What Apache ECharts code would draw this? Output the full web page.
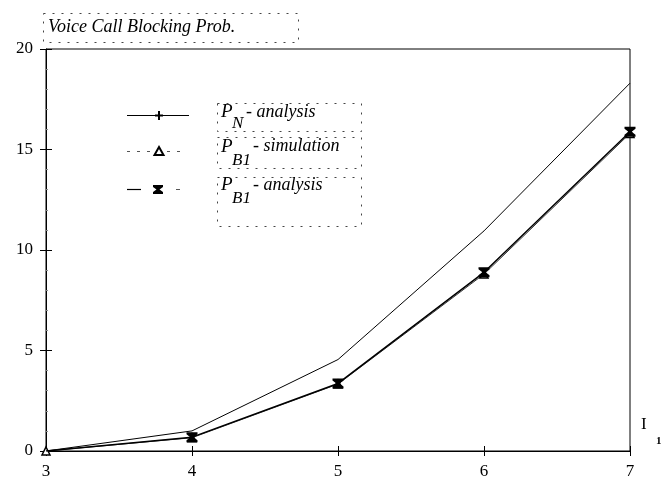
<!DOCTYPE html>
<html><head><meta charset="utf-8">
<script src="https://cdn.jsdelivr.net/npm/echarts@6/dist/echarts.min.js"></script>
<style>html,body{margin:0;padding:0;background:#fff}#c{width:661px;height:483px}</style>
</head><body><div id="c"></div>
<script>
const xValues = [3, 4, 5, 6, 7];
const pnAnalysis = [0, 1.0, 4.55, 10.95, 18.3];
const pb1Simulation = [0, 0.66, 3.33, 8.8, 15.8];
const pb1Analysis = [0, 0.69, 3.36, 8.89, 15.88];
const titleText = 'Voice Call Blocking Prob.';
const legendMain = ['P', 'P', 'P'];
const legendSub = ['N', 'B1', 'B1'];
const legendRest = ['- analysis', '- simulation', '- analysis'];

const FONT = 'Liberation Serif';
const STAR = 'path://M0,0L10,0L10,2L6.5,5L10,8L10,10L0,10L0,8L3.5,5L0,2Z';
const pairs = arr => arr.map((v, i) => [xValues[i], v]);

const chart = echarts.init(document.getElementById('c'), null, {renderer: 'canvas'});
const dash = {stroke: '#444', lineWidth: 1, lineDash: [2, 7], fill: null};
const starPts = (cx, cy) => [[0,0],[10,0],[10,2],[6.5,4.5],[10,7],[10,9],[0,9],[0,7],[3.5,4.5],[0,2]].map(p => [cx - 5 + p[0], cy - 4.5 + p[1]]);

const graphics = [
  {type: 'rect', shape: {x: 43.5, y: 13.5, width: 255, height: 29}, style: dash, z: 10},
  {type: 'text', x: 48, y: 27, style: {text: titleText, font: 'italic 18px "Liberation Serif"', fill: '#000', verticalAlign: 'middle'}, z: 10},
  {type: 'rect', shape: {x: 217.5, y: 103.5, width: 144, height: 28}, style: dash},
  {type: 'rect', shape: {x: 217.5, y: 137.5, width: 144, height: 31}, style: dash},
  {type: 'rect', shape: {x: 217.5, y: 177.5, width: 144, height: 49}, style: dash},
  {type: 'line', shape: {x1: 127, y1: 115.5, x2: 189, y2: 115.5}, style: {stroke: '#000', lineWidth: 1}},
  {type: 'line', shape: {x1: 155, y1: 115.5, x2: 163, y2: 115.5}, style: {stroke: '#000', lineWidth: 2}},
  {type: 'line', shape: {x1: 159, y1: 111, x2: 159, y2: 120}, style: {stroke: '#000', lineWidth: 2}},
  {type: 'line', shape: {x1: 127, y1: 151.5, x2: 181, y2: 151.5}, style: {stroke: '#555', lineWidth: 1, lineDash: [3, 7]}},
  {type: 'polygon', shape: {points: [[159, 147], [163.5, 155], [154.5, 155]]}, style: {fill: '#fff', stroke: '#000', lineWidth: 2}},
  {type: 'line', shape: {x1: 127, y1: 189.5, x2: 141, y2: 189.5}, style: {stroke: '#000', lineWidth: 1.2}},
  {type: 'line', shape: {x1: 176, y1: 189.5, x2: 180, y2: 189.5}, style: {stroke: '#555', lineWidth: 1}},
  {type: 'polygon', shape: {points: starPts(158, 189.5)}, style: {fill: '#000'}},
  {type: 'text', x: 641, y: 425, style: {text: 'I', font: '17px "Liberation Serif"', fill: '#000', verticalAlign: 'middle'}},
  {type: 'text', x: 656, y: 441, style: {text: '1', font: 'bold 11px "Liberation Serif"', fill: '#000', verticalAlign: 'middle'}}
];
const rowY = [112, 146.5, 185];
const subY = [123.5, 161, 199];
const restX = [246, 253, 253];
for (let i = 0; i < 3; i++) {
  graphics.push({type: 'text', x: 221, y: rowY[i], style: {text: legendMain[i], font: 'italic 19px "Liberation Serif"', fill: '#000', verticalAlign: 'middle'}});
  graphics.push({type: 'text', x: 232, y: subY[i], style: {text: legendSub[i], font: 'italic 17px "Liberation Serif"', fill: '#000', verticalAlign: 'middle'}});
  graphics.push({type: 'text', x: restX[i], y: rowY[i], style: {text: legendRest[i], font: 'italic 18px "Liberation Serif"', fill: '#000', verticalAlign: 'middle'}});
}

const axisBase = {min: 0, max: 20, interval: 5};
chart.setOption({
  animation: false,
  backgroundColor: '#fff',
  grid: {left: 46, right: 31, top: 49, bottom: 32, show: true, borderColor: '#000', borderWidth: 1, containLabel: false},
  xAxis: [
    {type: 'value', min: 3, max: 7, interval: 1,
     axisLine: {show: true, lineStyle: {color: '#000', width: 1}},
     axisTick: {show: true, length: 5, lineStyle: {color: '#000'}},
     axisLabel: {color: '#000', fontFamily: FONT, fontSize: 17, margin: 12},
     splitLine: {show: false}},
    {type: 'value', min: 3, max: 7, interval: 1, position: 'bottom', offset: 0,
     axisLine: {show: false}, axisTick: {show: true, inside: true, length: 5, lineStyle: {color: '#000'}},
     axisLabel: {show: false}, splitLine: {show: false}}
  ],
  yAxis: [
    Object.assign({type: 'value', position: 'left',
     axisLine: {show: true, lineStyle: {color: '#000', width: 1}},
     axisTick: {show: true, length: 6, lineStyle: {color: '#000'}},
     axisLabel: {color: '#000', fontFamily: FONT, fontSize: 17, margin: 13},
     splitLine: {show: false}}, axisBase),
    Object.assign({type: 'value', position: 'left', offset: 0,
     axisLine: {show: false}, axisTick: {show: true, inside: true, length: 6, lineStyle: {color: '#000'}},
     minorTick: {show: true, splitNumber: 5, length: 2, lineStyle: {color: '#888'}},
     axisLabel: {show: false}, splitLine: {show: false}}, axisBase)
  ],
  graphic: graphics,
  series: [
    {name: 'PN analysis', type: 'line', data: pairs(pnAnalysis), showSymbol: false,
     lineStyle: {color: '#000', width: 1}, z: 2},
    {name: 'PB1 simulation', type: 'line', data: pairs(pb1Simulation),
     symbol: 'triangle', symbolSize: 8, itemStyle: {color: '#fff', borderColor: '#000', borderWidth: 1.5},
     lineStyle: {color: '#333', width: 1}, z: 3},
    {name: 'PB1 analysis', type: 'line',
     data: pairs(pb1Analysis).map((p, i) => i === 0 ? {value: p, symbol: 'none'} : p),
     symbol: STAR, symbolSize: [11, 10], itemStyle: {color: '#000'},
     lineStyle: {color: '#000', width: 1.5}, z: 4}
  ]
});
</script></body></html>
